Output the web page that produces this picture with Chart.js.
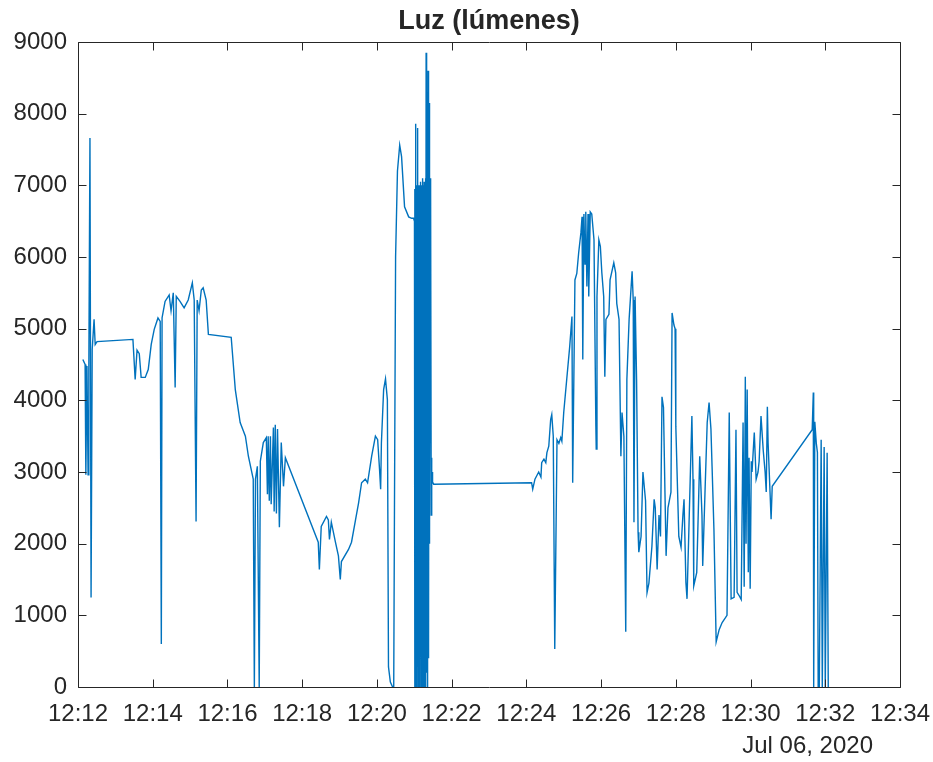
<!DOCTYPE html>
<html>
<head>
<meta charset="utf-8">
<title>Luz (lúmenes)</title>
<script src="https://cdn.jsdelivr.net/npm/chart.js@4.4.1/dist/chart.umd.min.js"></script>
<style>
    html, body { margin: 0; padding: 0; background: #fff; }
    #wrap { width: 933px; height: 762px; position: relative; }
</style>
</head>
<body>
<div id="wrap"><canvas id="luzChart" width="933" height="762"></canvas></div>
<script>
// minutes past 12:00 (Jul 06, 2020)
const timeMin = [
    12.13, 12.19, 12.21, 12.24, 12.27, 12.29, 12.32, 12.35, 12.38, 12.43, 12.46, 12.51,
    13.47, 13.53, 13.58, 13.64, 13.69, 13.80, 13.88, 13.96, 14.04, 14.14, 14.20, 14.23,
    14.25, 14.33, 14.44, 14.49, 14.55, 14.60, 14.63, 14.73, 14.84, 14.95, 15.06, 15.11,
    15.16, 15.19, 15.24, 15.30, 15.35, 15.43, 15.49, 16.10, 16.21, 16.34, 16.48, 16.56,
    16.69, 16.72, 16.75, 16.80, 16.85, 16.88, 16.96, 17.04, 17.07, 17.09, 17.12, 17.15,
    17.17, 17.23, 17.25, 17.28, 17.31, 17.34, 17.39, 17.44, 17.50, 17.55, 18.43, 18.46,
    18.51, 18.65, 18.70, 18.73, 18.78, 18.89, 18.97, 19.02, 19.05, 19.24, 19.32, 19.43,
    19.51, 19.59, 19.69, 19.75, 19.86, 19.96, 20.02, 20.07, 20.10, 20.12, 20.18, 20.23,
    20.28, 20.31, 20.36, 20.42, 20.45, 20.47, 20.50, 20.55, 20.61, 20.66, 20.74, 20.85,
    20.93, 20.98,
    // dense burst around 12:21
    21.005, 21.012, 21.018, 21.025, 21.031, 21.038, 21.044, 21.051, 21.057, 21.064,
    21.070, 21.077, 21.083, 21.090, 21.096, 21.103, 21.109, 21.116, 21.122, 21.129,
    21.135, 21.142, 21.148, 21.155, 21.161, 21.168, 21.174, 21.181, 21.187, 21.194,
    21.200, 21.207, 21.213, 21.220, 21.226, 21.233, 21.239, 21.246, 21.252, 21.259,
    21.265, 21.272, 21.278, 21.285, 21.291, 21.298, 21.304, 21.311, 21.317, 21.324,
    21.330, 21.337, 21.343, 21.350, 21.356, 21.363, 21.369, 21.376, 21.382, 21.389,
    21.395, 21.402, 21.408, 21.415, 21.421, 21.428, 21.434, 21.441, 21.447, 21.454,
    21.460, 21.467, 21.473, 21.480, 21.486, 21.493,
    21.52,
    24.14, 24.17, 24.23, 24.33, 24.39, 24.41, 24.47, 24.52, 24.55, 24.60, 24.65, 24.68,
    24.72, 24.76, 24.82, 24.87, 24.92, 24.95, 25.00, 25.08, 25.16, 25.22, 25.24, 25.30,
    25.35, 25.40, 25.46, 25.49, 25.51, 25.54, 25.57, 25.59, 25.62, 25.65, 25.67, 25.71,
    25.75, 25.81, 25.86, 25.87, 25.89, 25.94, 25.98, 26.02, 26.07, 26.10, 26.13, 26.21,
    26.24, 26.34, 26.39, 26.42, 26.48, 26.53, 26.56, 26.61, 26.66, 26.69, 26.75, 26.83,
    26.86, 26.88, 26.91, 26.95, 26.99, 27.01, 27.07, 27.12, 27.19, 27.23, 27.28, 27.36,
    27.42, 27.45, 27.50, 27.55, 27.59, 27.63, 27.67, 27.71, 27.74, 27.79, 27.87, 27.90,
    27.95, 27.98, 28.00, 28.08, 28.14, 28.19, 28.22, 28.27, 28.30, 28.35, 28.43, 28.46,
    28.48, 28.54, 28.56, 28.64, 28.70, 28.72, 28.78, 28.84, 28.89, 28.94, 28.97, 29.02,
    29.08, 29.16, 29.24, 29.32, 29.37, 29.43, 29.48, 29.56, 29.61, 29.64, 29.69, 29.75,
    29.80, 29.83, 29.86, 29.88, 29.91, 29.94, 29.96, 29.99, 30.02, 30.04, 30.10, 30.15,
    30.20, 30.23, 30.28, 30.34, 30.39, 30.42, 30.45, 30.47, 30.55, 30.58,
    31.65, 31.68, 31.69, 31.72, 31.76, 31.79, 31.81, 31.84, 31.89, 31.92, 31.97, 32.00,
    32.05, 32.08
];

// light readings (lumens)
const lux = [
    4570, 4500, 2960, 4480, 2960, 4430, 7660, 1250, 4710, 5130, 4780, 4820,
    4850, 4290, 4700, 4650, 4320, 4320, 4430, 4780, 4990, 5150, 5100, 600,
    5150, 5380, 5470, 5250, 5500, 4180, 5450, 5380, 5290, 5400, 5640, 5400,
    2310, 5400, 5250, 5540, 5570, 5400, 4920, 4880, 4150, 3690, 3500, 3220,
    2900, 0, 2900, 3080, 0, 3150, 3410, 3480, 2690, 3500, 2600, 3500,
    2550, 3620, 2450, 3660, 2420, 3600, 2230, 3410, 2800, 3200, 2020, 1640,
    2240, 2380, 2330, 2060, 2300, 2020, 1830, 1500, 1750, 1920, 2020, 2340,
    2570, 2850, 2900, 2850, 3220, 3500, 3450, 3040, 2760, 3400, 4150, 4300,
    4010, 280, 70, 0, 0, 2500, 6000, 7200, 7560, 7400, 6700, 6560,
    6540, 6540,
    // dense burst around 12:21
    6500, 0, 6950, 4200, 7860, 1800, 7000, 0, 6900, 5200,
    7000, 300, 6950, 3800, 7800, 0, 7000, 1500, 6900, 4500,
    6950, 0, 7000, 2500, 7050, 800, 6900, 0, 7000, 3300,
    6950, 0, 7100, 1200, 6900, 4800, 7000, 0, 6950, 2200,
    7050, 0, 6900, 3500, 7000, 600, 7100, 0, 8850, 1000,
    7000, 200, 8300, 2800, 6950, 0, 8600, 1500, 7200, 400,
    7000, 3000, 8150, 2000, 7100, 4200, 6800, 3400, 6900, 2400,
    3200, 3100, 2950, 3000, 2900, 2860,
    2830,
    2850, 2760, 2900, 3000, 2930, 3130, 3180, 3130, 3270, 3360, 3730, 3800,
    3500, 530, 3450, 3400, 3480, 3430, 3830, 4290, 4750, 5170, 2850, 5680,
    5770, 6060, 6340, 6560, 4570, 6600, 5900, 6630, 5590, 6600, 5450, 6630,
    6600, 6240, 3640, 3320, 5450, 6240, 6150, 5780, 5450, 4330, 5130, 5200,
    5680, 5920, 5780, 5350, 5130, 3220, 3830, 3500, 770, 4290, 5130, 5800,
    5400, 2300, 5450, 4290, 2160, 1880, 2100, 3000, 2600, 1320, 1450, 1960,
    2620, 2500, 1640, 2400, 2100, 4050, 3900, 2700, 1830, 2500, 2720, 5220,
    5050, 5000, 3640, 2100, 1950, 2400, 2620, 1460, 1230, 2200, 3780, 2900,
    1410, 1550, 1600, 3220, 2400, 1690, 2700, 3690, 3970, 3600, 3080, 2200,
    630, 800, 900, 960, 1000, 3830, 1230, 1250, 3590, 1320, 1280, 1220,
    3690, 1400, 4330, 2000, 4150, 1600, 3200, 1370, 3150, 3000, 3550, 2900,
    3000, 3150, 3780, 3300, 3000, 2720, 3910, 3400, 2340, 2800,
    3590, 4110, 0, 3700, 3400, 3270, 0, 0, 3450, 0, 3350, 0,
    3270, 0
];

// axis ranges / tick steps
const xRange = [12, 34];
const xStep = 2;
const yRange = [0, 9000];
const yStep = 1000;

const titleText = 'Luz (lúmenes)';
const dateText = 'Jul 06, 2020';

const axisColor = '#262626';
const fontFamily = "'Liberation Sans', Arial, Helvetica, sans-serif";

// MATLAB style box with inward ticks, plus title and date label
const matlabBox = {
    id: 'matlabBox',
    afterDraw: function (chart) {
        var ctx = chart.ctx;
        var area = chart.chartArea;
        var xs = chart.scales.x;
        var ys = chart.scales.y;
        var tickLen = 8;
        ctx.save();
        ctx.strokeStyle = axisColor;
        ctx.lineWidth = 1;
        ctx.beginPath();
        var l = Math.round(area.left) + 0.5, r = Math.round(area.right) + 0.5;
        var t = Math.round(area.top) + 0.5, b = Math.round(area.bottom) + 0.5;
        ctx.rect(l, t, r - l, b - t);
        xs.ticks.forEach(function (tk) {
            var px = Math.round(xs.getPixelForValue(tk.value)) + 0.5;
            ctx.moveTo(px, b); ctx.lineTo(px, b - tickLen);
            ctx.moveTo(px, t); ctx.lineTo(px, t + tickLen);
        });
        ys.ticks.forEach(function (tk) {
            var py = Math.round(ys.getPixelForValue(tk.value)) + 0.5;
            ctx.moveTo(l, py); ctx.lineTo(l + tickLen, py);
            ctx.moveTo(r, py); ctx.lineTo(r - tickLen, py);
        });
        ctx.stroke();

        ctx.fillStyle = axisColor;
        ctx.textAlign = 'center';
        ctx.textBaseline = 'middle';
        ctx.font = 'bold 27px ' + fontFamily;
        ctx.fillText(titleText, (area.left + area.right) / 2, 22);

        ctx.font = '24px ' + fontFamily;
        ctx.textAlign = 'right';
        ctx.fillText(dateText, area.right - 27, 746);
        ctx.restore();
    }
};

var points = timeMin.map(function (m, i) { return { x: m, y: lux[i] }; });

new Chart(document.getElementById('luzChart').getContext('2d'), {
    type: 'line',
    data: {
        datasets: [{
            label: titleText,
            data: points,
            borderColor: '#0072BD',
            borderWidth: 1.4,
            pointRadius: 0,
            tension: 0,
            fill: false
        }]
    },
    options: {
        responsive: false,
        animation: false,
        layout: { padding: { top: 42, right: 33, left: 0, bottom: 0 } },
        plugins: {
            legend: { display: false },
            tooltip: { enabled: false }
        },
        scales: {
            x: {
                type: 'linear',
                min: xRange[0],
                max: xRange[1],
                grid: { display: false, drawTicks: false },
                border: { display: false },
                ticks: {
                    stepSize: xStep,
                    padding: 13,
                    maxRotation: 0,
                    autoSkip: false,
                    color: axisColor,
                    font: { family: fontFamily, size: 24 },
                    callback: function (value) {
                        return '12:' + String(value).padStart(2, '0');
                    }
                },
                afterFit: function (scale) {
                    scale.height = 75;
                    // let the layout padding alone decide the right edge
                    scale.paddingLeft = 0;
                    scale.paddingRight = 0;
                }
            },
            y: {
                min: yRange[0],
                max: yRange[1],
                grid: { display: false, drawTicks: false },
                border: { display: false },
                ticks: {
                    stepSize: yStep,
                    padding: 11,
                    color: axisColor,
                    font: { family: fontFamily, size: 24 },
                    callback: function (value) {
                        return String(value);
                    }
                },
                afterFit: function (scale) {
                    scale.width = 78;
                    scale.paddingTop = 0;
                    scale.paddingBottom = 0;
                }
            }
        }
    },
    plugins: [matlabBox]
});
</script>
</body>
</html>
